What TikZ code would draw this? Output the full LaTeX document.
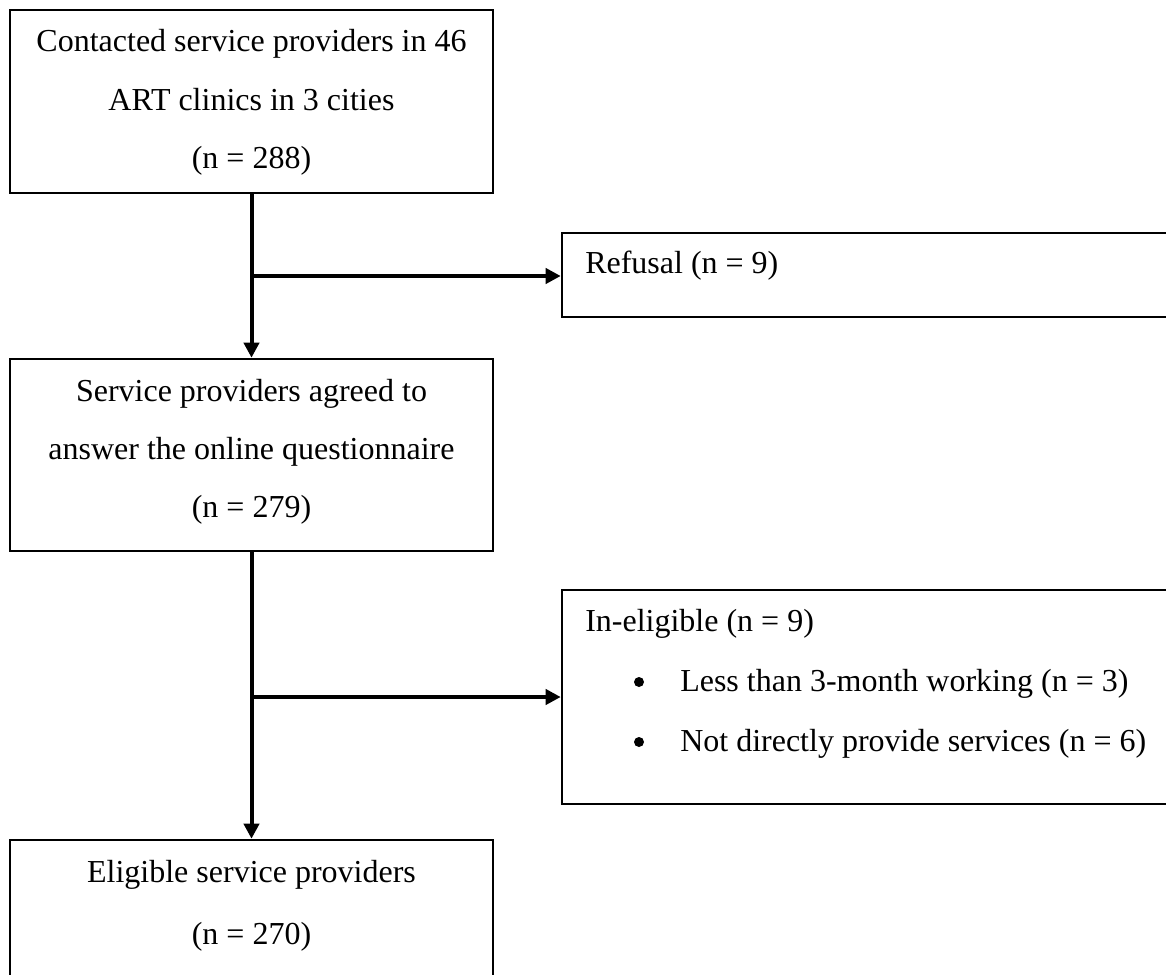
\documentclass[tikz,border=0pt]{standalone}
\usepackage{fontspec}
\setmainfont{Liberation Serif}
\usetikzlibrary{arrows.meta,fit}
\begin{document}
\begin{tikzpicture}[x=0.75pt,y=-0.75pt,
  box/.style={draw=black, line width=1.9pt, inner sep=0pt},
  txt/.style={inner sep=0pt, font=\fontsize{24}{28}\selectfont},
  bul/.style={circle, fill=black, inner sep=0pt, minimum size=7.5pt},
  arr/.style={line width=3pt, -{Triangle[length=11.25pt,width=11.25pt]}}]
\useasboundingbox (0,0) rectangle (1166,974);
\clip (0,0) rectangle (1166,974);
% boxes
\node[box, fit={(10,10) (493,193)}] (A) {};
\node[box, fit={(562,233) (1180,317)}] (R) {};
\node[box, fit={(10,359) (493,551)}] (B) {};
\node[box, fit={(562,590) (1180,804)}] (I) {};
\node[box, fit={(10,840) (493,1025)}] (E) {};
% texts
\node[txt, anchor=base] (a1) at (251.5,52) {Contacted service providers in 46};
\node[txt, anchor=base] (a2) at (251.5,110) {ART clinics in 3 cities};
\node[txt, anchor=base] (a3) at (251.5,168) {(n = 288)};
\node[txt, anchor=base west] (r1) at (585,273) {Refusal (n = 9)};
\node[txt, anchor=base] (b1) at (251.5,401) {Service providers agreed to};
\node[txt, anchor=base] (b2) at (251.5,459) {answer the online questionnaire};
\node[txt, anchor=base] (b3) at (251.5,517) {(n = 279)};
\node[txt, anchor=base west] (i1) at (585,631) {In-eligible (n = 9)};
\node[bul] (ib1) at (639,682) {};
\node[txt, anchor=base west] (i2) at (680,691) {Less than 3-month working (n = 3)};
\node[bul] (ib2) at (639,742) {};
\node[txt, anchor=base west] (i3) at (680,751) {Not directly provide services (n = 6)};
\node[txt, anchor=base] (e1) at (251.5,882) {Eligible service providers};
\node[txt, anchor=base] (e2) at (251.5,944) {(n = 270)};
% connectors
\draw[arr] (A.south) -- (B.north);
\draw[arr] (B.south) -- (E.north);
\coordinate (j1) at (251.5,276);
\coordinate (j2) at (251.5,697);
\draw[arr] (j1) -- (j1 -| R.west);
\draw[arr] (j2) -- (j2 -| I.west);
\end{tikzpicture}
\end{document}
